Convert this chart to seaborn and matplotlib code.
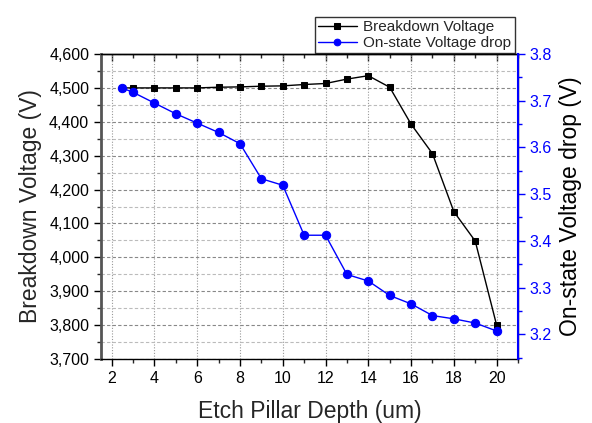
import matplotlib
matplotlib.use("Agg")
import matplotlib.pyplot as plt
from matplotlib.ticker import MultipleLocator, FuncFormatter
import seaborn as sns
import pandas as pd

depth = [2.5, 3, 4, 5, 6, 7, 8, 9, 10, 11, 12, 13, 14, 15, 16, 17, 18, 19, 20]
breakdown = [4500, 4500, 4500, 4500, 4500, 4502, 4503, 4505, 4506, 4510, 4513,
             4526, 4536, 4502, 4393, 4306, 4135, 4048, 3800]
onstate = [3.727, 3.718, 3.695, 3.672, 3.652, 3.632, 3.608, 3.533, 3.519, 3.412,
           3.412, 3.328, 3.314, 3.283, 3.265, 3.240, 3.233, 3.224, 3.207]

df = pd.DataFrame({"depth": depth, "bv": breakdown, "von": onstate})

sns.set_style("ticks")
plt.rcParams["font.family"] = ["Liberation Sans", "DejaVu Sans"]

fig = plt.figure(figsize=(5.92, 4.23), dpi=100)
ax = fig.add_axes([0.1706, 0.1513, 0.7044, 0.721])
ax2 = ax.twinx()

sns.lineplot(data=df, x="depth", y="bv", ax=ax, color="black", marker="s",
             markersize=5, markeredgecolor="black", linewidth=1,
             label="Breakdown Voltage", legend=False)
sns.lineplot(data=df, x="depth", y="von", ax=ax2, color="blue", marker="o",
             markersize=6, markeredgecolor="blue", linewidth=1,
             label="On-state Voltage drop", legend=False)

ax.set_xlim(1.5, 21)
ax.set_ylim(3700, 4600)
ax2.set_ylim(3.147, 3.8)

ax.xaxis.set_major_locator(MultipleLocator(2))
ax.xaxis.set_minor_locator(MultipleLocator(1))
ax.yaxis.set_major_locator(MultipleLocator(100))
ax.yaxis.set_minor_locator(MultipleLocator(50))
ax.yaxis.set_major_formatter(FuncFormatter(lambda v, p: f"{int(v):,}"))
ax2.yaxis.set_major_locator(MultipleLocator(0.1))
ax2.yaxis.set_minor_locator(MultipleLocator(0.05))
ax2.yaxis.set_major_formatter(FuncFormatter(lambda v, p: f"{v:.1f}"))

ax.grid(True, which="major", axis="y", color="#888888", linestyle=(0, (3, 2)), linewidth=0.8)
ax.grid(True, which="minor", axis="y", color="#bbbbbb", linestyle=(0, (3, 2)), linewidth=0.8)
ax.grid(True, which="major", axis="x", color="#999999", linestyle=(0, (1, 1.5)), linewidth=0.8)
ax.set_axisbelow(True)

ax.tick_params(axis="both", which="major", direction="out", length=5, width=1,
               labelsize=11.5, colors="black")
ax.tick_params(axis="both", which="minor", direction="out", length=3, width=1)
ax2.tick_params(axis="y", which="major", direction="out", length=5, width=1,
                labelsize=11.5, colors="blue")
ax2.tick_params(axis="y", which="minor", direction="out", length=3, width=1, colors="blue")

# top axis with inward ticks, no labels
top = ax.secondary_xaxis("top")
top.xaxis.set_major_locator(MultipleLocator(2))
top.xaxis.set_minor_locator(MultipleLocator(1))
top.tick_params(axis="x", which="major", direction="in", length=5, width=1, labeltop=False)
top.tick_params(axis="x", which="minor", direction="in", length=3, width=1)
top.spines["top"].set_linewidth(1)
top.spines["top"].set_color("black")

for sp in ax.spines.values():
    sp.set_linewidth(1)
    sp.set_color("black")
ax.spines["left"].set_color("#555555")
ax.spines["left"].set_linewidth(2)
ax2.spines["right"].set_color("blue")
ax2.spines["right"].set_linewidth(1.5)
ax2.spines["left"].set_visible(False)
ax2.spines["top"].set_visible(False)
ax2.spines["bottom"].set_visible(False)

ax.set_xlabel("Etch Pillar Depth (um)", fontsize=16.5, labelpad=10)
ax.set_ylabel("Breakdown Voltage (V)", fontsize=16.5, labelpad=5)
ax2.set_ylabel("On-state Voltage drop (V)", fontsize=16.5, labelpad=5, color="black")

h1, l1 = ax.get_legend_handles_labels()
h2, l2 = ax2.get_legend_handles_labels()
leg = fig.legend(h1 + h2, l1 + l2, loc="upper right", bbox_to_anchor=(0.882, 0.977),
                 fontsize=11, frameon=True, fancybox=False, edgecolor="black",
                 borderpad=0.2, labelspacing=0.1, handlelength=2.6, handletextpad=0.4,
                 markerscale=0.8)
leg.get_frame().set_linewidth(1)

fig.savefig("out.png", dpi=100)
